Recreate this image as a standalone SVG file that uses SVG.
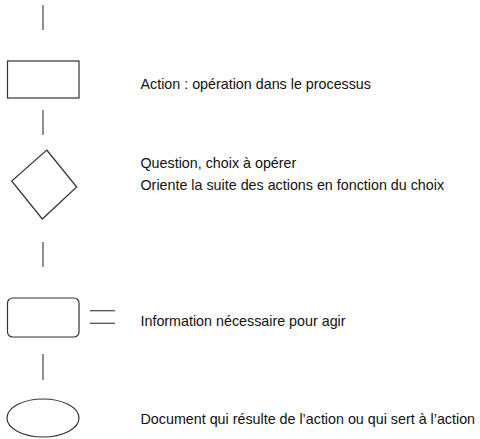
<svg xmlns="http://www.w3.org/2000/svg" width="480" height="439" viewBox="0 0 480 439">
<style>
.s{fill:#fff;stroke:#333;stroke-width:1.2}
.c{stroke:#555;stroke-width:1.3;fill:none}
text{font-family:"Liberation Sans",Arial,sans-serif;font-size:14.3px;fill:#111}
</style>
<rect width="480" height="439" fill="#fff"/>
<g id="connectors">
<line class="c" x1="43" y1="5" x2="43" y2="30"/>
<line class="c" x1="43" y1="110" x2="43" y2="135"/>
<line class="c" x1="43" y1="242" x2="43" y2="267"/>
<line class="c" x1="43" y1="354" x2="43" y2="380"/>
<line class="c" x1="90" y1="310.7" x2="115" y2="310.7"/>
<line class="c" x1="90" y1="323.3" x2="115" y2="323.3"/>
</g>
<g id="action">
<rect class="s" x="7.5" y="61" width="71.5" height="37"/>
<text x="140.5" y="88.5">Action : opération dans le processus</text>
</g>
<g id="question">
<polygon class="s" points="46.7,150 76.7,187 42.3,219 11.7,181"/>
<text x="140.5" y="168">Question, choix à opérer</text>
<text x="140.5" y="189.5">Oriente la suite des actions en fonction du choix</text>
</g>
<g id="information">
<rect class="s" x="7.5" y="298" width="71.5" height="39" rx="5"/>
<text x="140.5" y="325.5">Information nécessaire pour agir</text>
</g>
<g id="document">
<ellipse class="s" cx="43" cy="418" rx="36" ry="19"/>
<text x="140.5" y="423.5">Document qui résulte de l’action ou qui sert à l’action</text>
</g>
</svg>
